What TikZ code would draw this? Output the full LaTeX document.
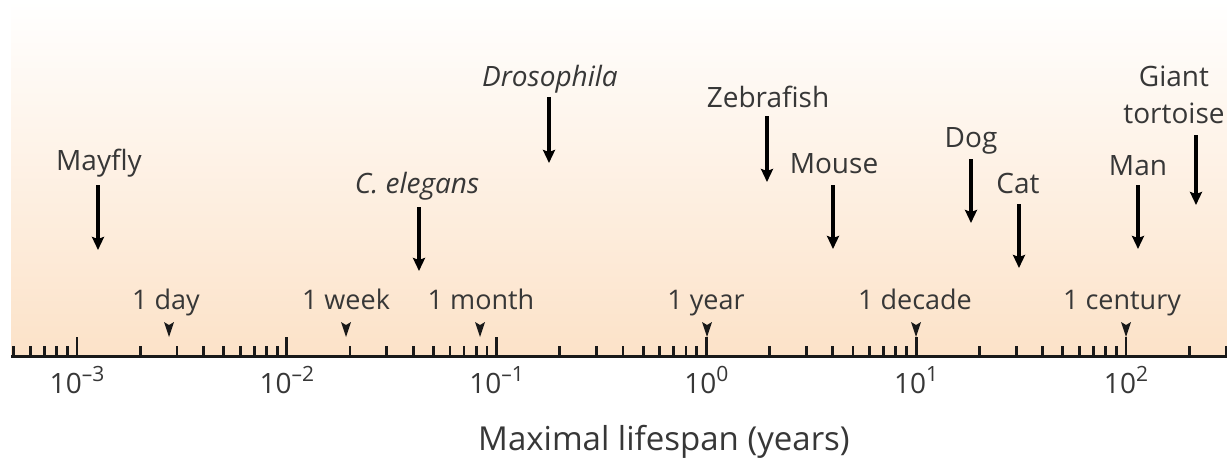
\documentclass[tikz,border=0pt]{standalone}
\usepackage{fontspec}
\setmainfont{Open Sans}
\usetikzlibrary{arrows.meta}
\definecolor{peach}{RGB}{252,226,200}
\definecolor{txt}{RGB}{55,55,55}
\definecolor{axiscol}{RGB}{25,25,25}
\newcommand{\pw}[1]{10\raisebox{0.42em}{\fontsize{21}{21}\selectfont #1}}
\begin{document}
\begin{tikzpicture}[x=1pt,y=-1pt,
  lab/.style={font=\fontsize{28}{37}\selectfont, text=txt, inner sep=0pt, anchor=base, align=center},
  ticklab/.style={font=\fontsize{27}{29}\selectfont, text=txt, inner sep=0pt, anchor=base},
  numlab/.style={font=\fontsize{28}{29}\selectfont, text=txt, inner sep=0pt, anchor=base},
  titlelab/.style={font=\fontsize{33}{35}\selectfont, text=txt, inner sep=0pt, anchor=base},
  arr/.style={line width=3.2pt, draw=black, -{Stealth[length=13pt,width=12pt,inset=2pt]}},
  tickline/.style={line width=2.8pt, draw=axiscol},
  marker/.style={fill=axiscol}
]
\useasboundingbox (0,0) rectangle (1227,460);
\fill[white] (0,0) rectangle (1227,460);
\shade[top color=white, bottom color=peach] (11,0) rectangle (1227,356);

% axis
\draw[tickline, line width=3pt] (11,356) -- (1227,356);
% minor ticks
\foreach \m in {5,...,9}{
  \pgfmathsetmacro\xx{77+(-1+log10(\m))*209.8}
  \draw[tickline] (\xx,346) -- (\xx,356);
}
\foreach \d in {-3,...,1}{
  \foreach \m in {2,...,9}{
    \pgfmathsetmacro\xx{77+(\d+3+log10(\m))*209.8}
    \draw[tickline] (\xx,346) -- (\xx,356);
  }
}
\foreach \m in {2,3}{
  \pgfmathsetmacro\xx{77+(5+log10(\m))*209.8}
  \draw[tickline] (\xx,346) -- (\xx,356);
}
% major ticks and numbers
\foreach \d/\lbl in {-3/{–3},-2/{–2},-1/{–1},0/{0},1/{1},2/{2}}{
  \pgfmathsetmacro\xx{77+(\d+3)*209.8}
  \draw[tickline] (\xx,337) -- (\xx,356);
  \node[numlab] (n\d) at (\xx,393) {\pw{\lbl}};
}

% time markers
\foreach \nm/\x/\tx/\t in {day/169/166/1 day, week/346/346/1 week, month/480/481/1 month, year/707/706/1 year, decade/916/915/1 decade, century/1126/1122/1 century}{
  \fill[marker] (\x-5,322) -- (\x,325) -- (\x+5,322) -- (\x,337) -- cycle;
  \node[ticklab] (t\nm) at (\tx,309) {\t};
}

% organisms
\node[lab] (mayfly) at (99,170) {Mayfly};
\node[lab] (celegans) at (417,193) {\itshape C. elegans};
\node[lab] (droso) at (550,86) {\itshape Drosophila};
\node[lab] (zebra) at (768,107) {Zebrafish};
\node[lab] (mouse) at (834,173) {Mouse};
\node[lab] (dog) at (971,147) {Dog};
\node[lab] (cat) at (1018,193) {Cat};
\node[lab] (man) at (1138,175) {Man};
\node[lab] (tortoise) at (1174,124) {Giant\\tortoise};

\coordinate (mayflyA) at (98,185);   \coordinate (mayflyB) at (98,250);
\coordinate (celegansA) at (419,207); \coordinate (celegansB) at (419,271);
\coordinate (drosoA) at (549,97);    \coordinate (drosoB) at (549,163);
\coordinate (zebraA) at (767,116);   \coordinate (zebraB) at (767,182);
\coordinate (mouseA) at (833,185);   \coordinate (mouseB) at (833,249);
\coordinate (dogA) at (971,159);     \coordinate (dogB) at (971,223);
\coordinate (catA) at (1019,204);    \coordinate (catB) at (1019,268);
\coordinate (manA) at (1138,185);    \coordinate (manB) at (1138,249);
\coordinate (tortoiseA) at (1196,135); \coordinate (tortoiseB) at (1196,205);
\foreach \o in {mayfly,celegans,droso,zebra,mouse,dog,cat,man,tortoise}{
  \draw[arr] (\o A) -- (\o B);
}

\node[titlelab] (title) at (664,450) {Maximal lifespan (years)};
\end{tikzpicture}
\end{document}
